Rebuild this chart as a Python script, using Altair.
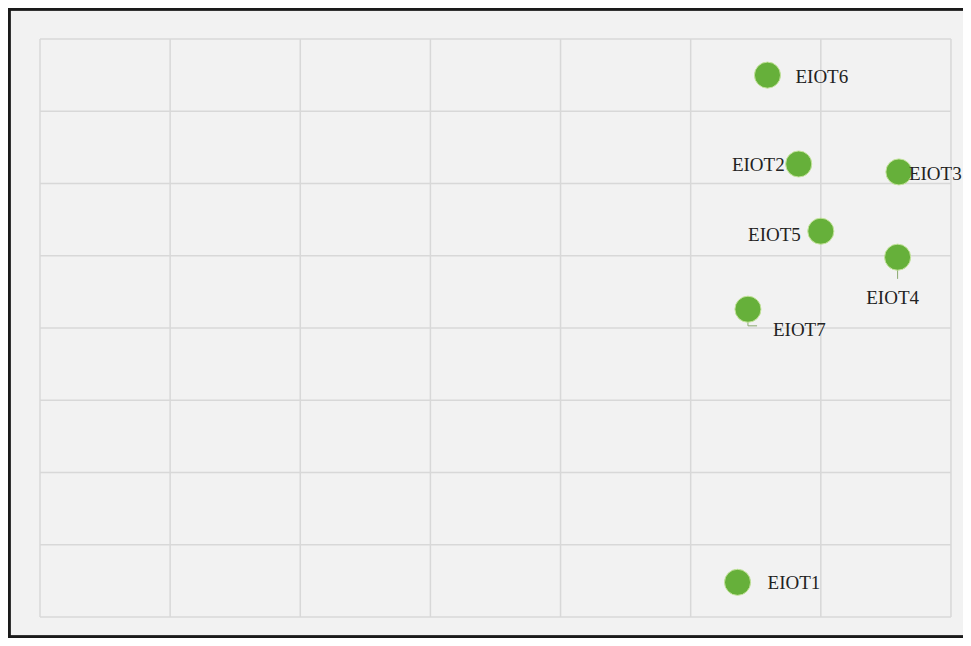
import altair as alt
import pandas as pd

names = ["EIOT1", "EIOT2", "EIOT3", "EIOT4", "EIOT5", "EIOT6", "EIOT7"]
xs = [5.36, 5.83, 6.60, 6.59, 6.00, 5.59, 5.44]
ys = [0.48, 6.27, 6.16, 4.98, 5.34, 7.50, 4.26]

x_grid = [0, 1, 2, 3, 4, 5, 6, 7]
y_grid = [0, 1, 2, 3, 4, 5, 6, 7, 8]

df = pd.DataFrame({"name": names, "x": xs, "y": ys})

W, H = 955, 630
xs_scale = alt.Scale(domain=[-0.2459, 7.0925], nice=False, zero=False)
ys_scale = alt.Scale(domain=[-0.2907, 8.429], nice=False, zero=False)

X = lambda f: alt.X(f, type="quantitative", scale=xs_scale, axis=None)
Y = lambda f: alt.Y(f, type="quantitative", scale=ys_scale, axis=None)

grid_color = "#d8d8d8"
vgrid = alt.Chart(pd.DataFrame({"g": x_grid})).mark_rule(color=grid_color, strokeWidth=1.5).encode(
    x=X("g"), y=alt.value(31), y2=alt.value(609))
hgrid = alt.Chart(pd.DataFrame({"g": y_grid})).mark_rule(color=grid_color, strokeWidth=1.5).encode(
    y=Y("g"), x=alt.value(32), x2=alt.value(943))

base = alt.Chart(df)

lead_color = "#8aa870"
lead4 = base.transform_filter(alt.datum.name == "EIOT4").transform_calculate(
    y2="datum.y - 0.3").mark_rule(color=lead_color, strokeWidth=1).encode(
    x=X("x"), y=Y("y"), y2="y2:Q")
lead7a = base.transform_filter(alt.datum.name == "EIOT7").transform_calculate(
    y2="datum.y - 0.23").mark_rule(color=lead_color, strokeWidth=1).encode(
    x=X("x"), y=Y("y"), y2="y2:Q")
lead7b = base.transform_filter(alt.datum.name == "EIOT7").transform_calculate(
    yy="datum.y - 0.23", x2="datum.x + 0.07").mark_rule(color=lead_color, strokeWidth=1).encode(
    x=X("x"), x2="x2:Q", y=Y("yy"))

pts = base.mark_circle(size=680, color="#66b03a", opacity=1, stroke="#c4e39c", strokeWidth=1).encode(
    x=X("x"), y=Y("y"))

font = "Liberation Serif"
label_cfg = {
    "EIOT1": dict(align="left", dx=30, dy=1),
    "EIOT2": dict(align="right", dx=-14, dy=1),
    "EIOT3": dict(align="left", dx=10, dy=2),
    "EIOT4": dict(align="center", dx=-5, dy=41),
    "EIOT5": dict(align="right", dx=-20, dy=4),
    "EIOT6": dict(align="left", dx=28, dy=2),
    "EIOT7": dict(align="left", dx=25, dy=21),
}
labels = []
for n in names:
    c = label_cfg[n]
    labels.append(
        base.transform_filter(alt.datum.name == n).mark_text(
            font=font, fontSize=19, color="#222222", baseline="middle", **c
        ).encode(x=X("x"), y=Y("y"), text="name:N")
    )

frame_color = "#1a1a1a"
frame_left = alt.Chart(df).mark_rule(color=frame_color, strokeWidth=2.5).encode(
    x=alt.value(1), y=alt.value(0), y2=alt.value(H))
frame_top = alt.Chart(df).mark_rule(color=frame_color, strokeWidth=2.5).encode(
    y=alt.value(1), x=alt.value(0), x2=alt.value(W))
frame_bot = alt.Chart(df).mark_rule(color=frame_color, strokeWidth=2.5).encode(
    y=alt.value(H - 1), x=alt.value(0), x2=alt.value(W))

chart = alt.layer(
    vgrid, hgrid, lead4, lead7a, lead7b, pts, *labels, frame_left, frame_top, frame_bot
).properties(
    width=W, height=H, padding=0, autosize=alt.AutoSizeParams(type="none"),
    background="#f2f2f2"
).configure_view(stroke=None)

chart.save("out.html", embed_options={"renderer": "svg", "actions": False})
